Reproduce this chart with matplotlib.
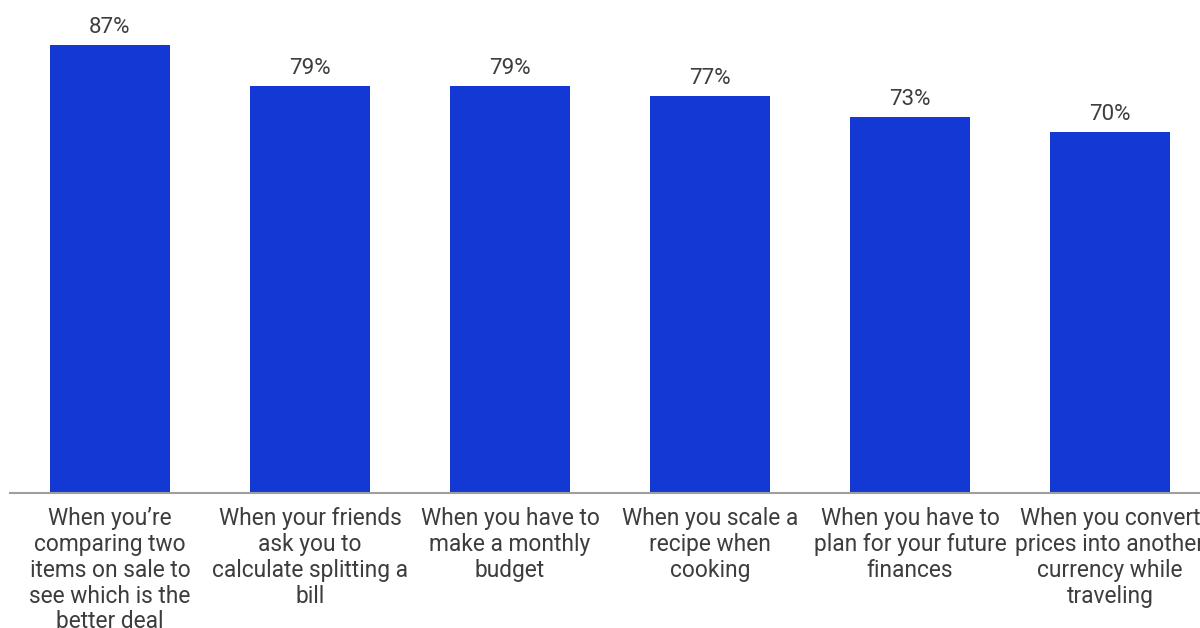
import matplotlib
matplotlib.use("Agg")
import matplotlib.pyplot as plt

BLUE = "#1438D4"
INK = "#3D3D3D"

categories = [
    "When you\u2019re\ncomparing two\nitems on sale to\nsee which is the\nbetter deal",
    "When your friends\nask you to\ncalculate splitting a\nbill",
    "When you have to\nmake a monthly\nbudget",
    "When you scale a\nrecipe when\ncooking",
    "When you have to\nplan for your future\nfinances",
    "When you convert\nprices into another\ncurrency while\ntraveling",
]
values = [87, 79, 79, 77, 73, 70]

plt.rcParams["font.family"] = ["Roboto", "DejaVu Sans"]

fig = plt.figure(figsize=(12, 6.28), dpi=100)
ax = fig.add_axes([10 / 1200, 135 / 628, 1190 / 1200, 493 / 628])

x = range(len(values))
bars = ax.bar(x, values, width=0.6, color=BLUE, zorder=2)
for b, v in zip(bars, values):
    ax.annotate(f"{v}%", (b.get_x() + b.get_width() / 2, v),
                xytext=(0, 5), textcoords="offset points",
                ha="center", va="bottom", fontsize=16, color=INK)

ax.set_xlim(-0.5, 5.45)
ax.set_ylim(0, 95.7)
ax.set_xticks(list(x))
ax.set_xticklabels(categories, fontsize=16.4, color=INK, linespacing=1.16,
                   va="top")
ax.tick_params(axis="x", length=0, pad=10)
ax.set_yticks([])
for side in ("top", "left", "right"):
    ax.spines[side].set_visible(False)
ax.spines["bottom"].set_color("#9E9E9E")
ax.spines["bottom"].set_linewidth(1.5)

fig.savefig("out.png", dpi=100, facecolor="white")
